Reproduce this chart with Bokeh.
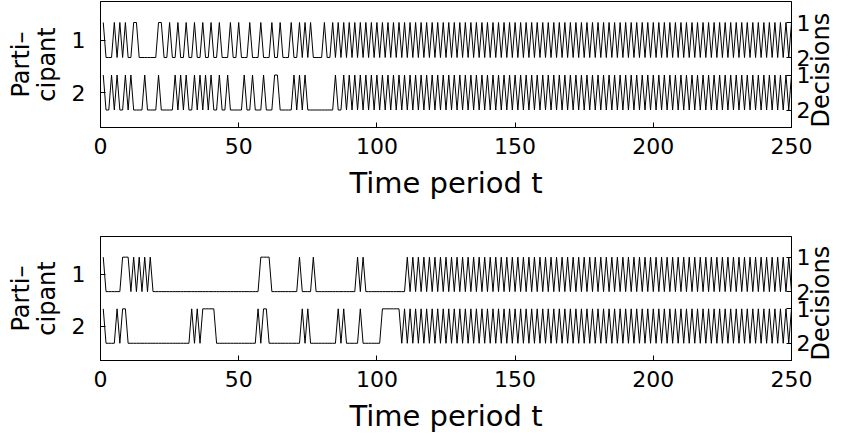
import math
from bokeh.plotting import figure
from bokeh.models import Range1d, LinearAxis, FixedTicker
from bokeh.layouts import column
from bokeh.embed import file_html
from bokeh.resources import INLINE

# Time periods
periods = list(range(1, 251))
time_ticks = [0, 50, 100, 150, 200, 250]

# Decisions (1 or 2) of each participant per period
top_participant1 = (
    "12221212122112222222112212212212212212212212221221"
    "22212221222122122212212121222212212121212121212121"
    "21212121212121212121212121212121212121212121212121"
    "21212121212121212121212121212121212121212121212121"
    "21212121212121212121212121212121212121212121212121"
)
top_participant2 = (
    "12212122121222212222122222121212212121212212212222"
    "21221222122211222221212122222222221221212121212121"
    "21212121212121212121212121212121212121212121212121"
    "21212121212121212121212121212121212121212121212121"
    "21212121212121212121212121212121212121212121212121"
)
bottom_participant1 = (
    "12222221112121212122222222222222222222222222222222"
    "22222221111222222222212222122222222222222212122222"
    "22222222221212121212121212121212121212121212121212"
    "12121212121212121212121212121212121212121212121212"
    "12121212121212121212121212121212121212121212121212"
)
bottom_participant2 = (
    "12222121122222222222222222222222121211111222222222"
    "22222212112222222222221212222222222121222221222222"
    "21111111212121212121212121212121212121212121212121"
    "21212121212121212121212121212121212121212121212121"
    "21212121212121212121212121212121212121212121212121"
)

participant_labels = ["1", "2"]
decision_labels = ["1", "2"]

FONT = "DejaVu Sans"
TICK_FS = "22px"
XLABEL_FS = "29px"
YLABEL_FS = "24px"

# vertical layout of each row (data units)
BASE = {0: 2.5, 1: 1.0}   # level of decision 1 for participant 1 / 2


def decode(s):
    return [int(c) for c in s]


def make_panel(seq1, seq2, border_top, border_bottom):
    p = figure(width=852, height=220, output_backend="svg", toolbar_location=None,
               x_range=Range1d(0, 250), y_range=Range1d(-0.5, 3.1),
               min_border_left=100, min_border_right=58,
               min_border_top=border_top, min_border_bottom=border_bottom,
               background_fill_color="white", border_fill_color="white")
    p.xgrid.visible = False
    p.ygrid.visible = False
    p.outline_line_color = "black"
    p.outline_line_width = 1

    for i, seq in enumerate([seq1, seq2]):
        ys = [BASE[i] - (d - 1) for d in decode(seq)]
        p.line(periods, ys, line_color="black", line_width=1)

    # bottom axis
    xa = p.xaxis[0]
    xa.ticker = FixedTicker(ticks=time_ticks)
    xa.axis_label = "Time period t"

    # left axis: participants
    ya = p.yaxis[0]
    ya.ticker = FixedTicker(ticks=[BASE[0] - 0.5, BASE[1] - 0.5])
    ya.major_label_overrides = {BASE[0] - 0.5: participant_labels[0],
                                BASE[1] - 0.5: participant_labels[1]}
    ya.axis_label = "Parti\u2013\ncipant"

    # right axis: decisions, title reading bottom to top
    ra = LinearAxis(axis_label="Decisions")
    levels = [BASE[0], BASE[0] - 1, BASE[1], BASE[1] - 1]
    ra.ticker = FixedTicker(ticks=levels)
    ra.major_label_overrides = {levels[0]: decision_labels[0], levels[1]: decision_labels[1],
                                levels[2]: decision_labels[0], levels[3]: decision_labels[1]}
    p.add_layout(ra, "right")
    try:
        ra.axis_label_orientation = math.pi / 2
    except Exception:
        pass
    try:
        ra.axis_label_align = "start"
    except Exception:
        pass

    for ax in [xa, ya, ra]:
        ax.major_label_text_font = FONT
        ax.major_label_text_font_size = TICK_FS
        ax.major_label_text_color = "black"
        ax.axis_label_text_font = FONT
        ax.axis_label_text_font_size = YLABEL_FS
        ax.axis_label_text_font_style = "normal"
        ax.axis_label_text_color = "black"
        ax.major_tick_in = 5
        ax.major_tick_out = 0
        ax.minor_tick_line_color = None
        ax.axis_line_color = "black"
        ax.major_tick_line_color = "black"
    xa.axis_label_text_font_size = XLABEL_FS
    try:
        ya.axis_label_text_line_height = 0.9
    except Exception:
        pass
    xa.major_label_standoff = 10
    xa.axis_label_standoff = 9
    ya.major_label_standoff = 15
    ya.axis_label_standoff = 8
    ya.major_label_orientation = "horizontal"
    ra.major_label_standoff = 5
    ra.axis_label_standoff = 8
    ra.major_label_orientation = "horizontal"
    return p


top = make_panel(top_participant1, top_participant2, 1, 93)
bottom = make_panel(bottom_participant1, bottom_participant2, 16, 80)

layout = column(top, bottom, spacing=0)
open("out.html", "w").write(file_html(layout, INLINE))
